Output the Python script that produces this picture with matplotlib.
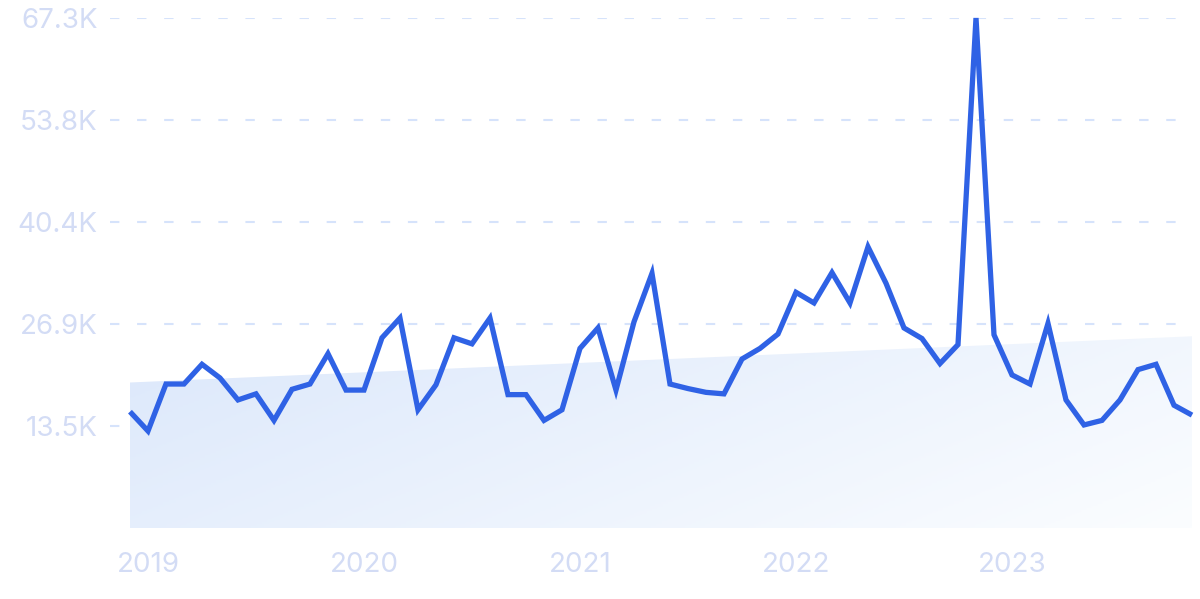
import matplotlib.pyplot as plt
import numpy as np
from matplotlib.colors import LinearSegmentedColormap

# monthly values, Dec 2018 .. Nov 2023
values = [15350, 12800, 19000, 19000, 21600, 19800, 16900, 17700, 14200, 18300,
          19000, 23000, 18200, 18200, 25100, 27700, 15600, 18900, 25100, 24300,
          27700, 17600, 17600, 14200, 15600, 23700, 26400, 18200, 27200, 33600,
          19000, 18400, 17900, 17700, 22300, 23700, 25600, 31100, 29700, 33700,
          29700, 37100, 32300, 26400, 25000, 21700, 24200, 67300, 25500, 20200,
          19000, 27000, 16900, 13600, 14200, 16900, 20900, 21600, 16200, 14900]
trend = [19200, 25300]
year_labels = ["2019", "2020", "2021", "2022", "2023"]
year_idx = [1, 13, 25, 37, 49]
ytick_vals = [13460, 26920, 40380, 53840, 67300]
ytick_labels = ["13.5K", "26.9K", "40.4K", "53.8K", "67.3K"]

plt.rcParams['font.family'] = ['Inter', 'DejaVu Sans']

fig = plt.figure(figsize=(12, 5.99), dpi=100)
ax = fig.add_axes([110/1200, 71/599, (1192-110)/1200, (528-18)/599])

x = np.arange(len(values))
n = len(values) - 1

ax.set_xlim(-1.11, n)
ax.set_ylim(0, 67300)

# trend area with diagonal gradient
tx = [0, n]
poly = ax.fill_between(tx, trend, 0, color='none', lw=0)
gx, gy = np.meshgrid(np.linspace(0, 1, 200), np.linspace(0, 1, 200))
grad = gx * 0.8 + gy * 0.35
cmap = LinearSegmentedColormap.from_list('g', ['#dce8fb', '#fbfdff'])
img = ax.imshow(grad, cmap=cmap, extent=[0, n, 0, max(trend)], origin='upper',
                aspect='auto', zorder=1)
path = poly.get_paths()[0]
img.set_clip_path(path, transform=ax.transData)

for v in ytick_vals:
    ax.axhline(v, color='#d6e3fb', lw=1.5, ls=(0, (4.5, 8.5)), zorder=0)

ax.plot(x, values, color='#2f62e5', lw=3.8, zorder=3, clip_on=False,
        solid_joinstyle='miter', solid_capstyle='butt')

ax.set_yticks(ytick_vals)
ax.set_yticklabels(ytick_labels)
ax.set_xticks(year_idx)
ax.set_xticklabels(year_labels)
ax.tick_params(axis='both', length=0, labelsize=20, labelcolor='#d3dcf5')
ax.tick_params(axis='y', pad=9)
ax.tick_params(axis='x', pad=17)
for s in ax.spines.values():
    s.set_visible(False)

fig.savefig('out.png', dpi=100)
